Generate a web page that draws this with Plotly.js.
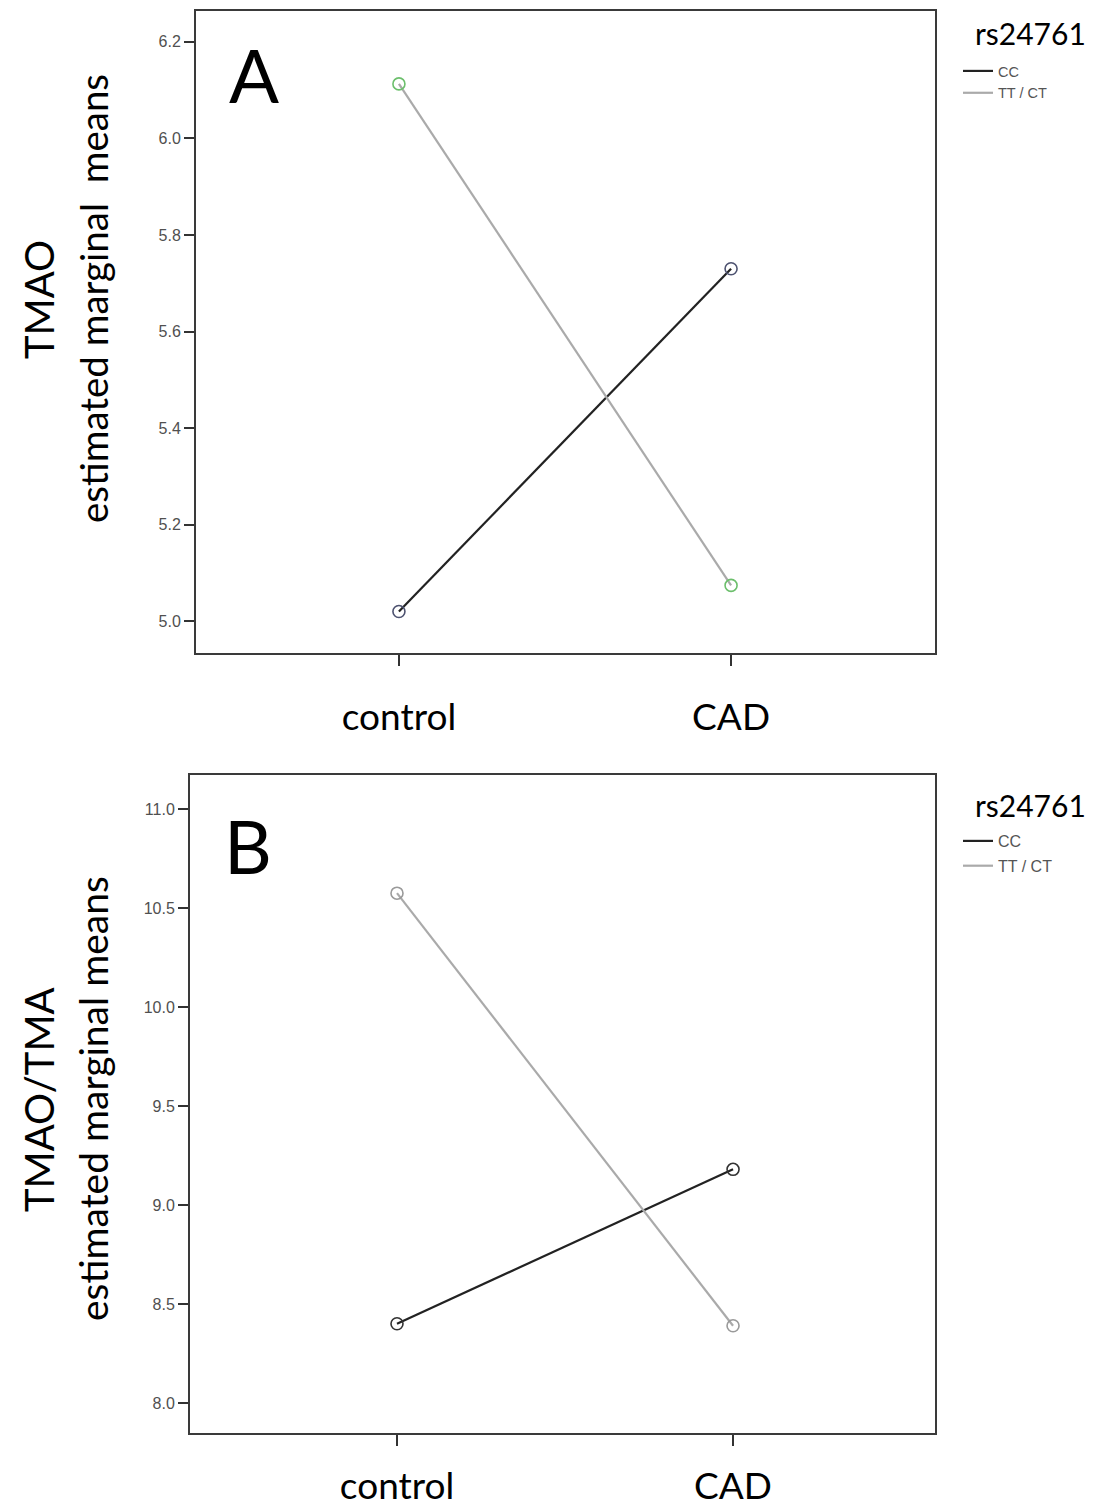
<!DOCTYPE html>
<html>
<head>
<meta charset="utf-8">
<script src="https://cdn.plot.ly/plotly-3.0.1.min.js"></script>
<style>html,body{margin:0;padding:0;background:#fff;}#chart{width:1093px;height:1510px;}</style>
</head>
<body>
<div id="chart"></div>
<script>
// ---- data ----
const categories = ['control', 'CAD'];
const groupNames = ['CC', 'TT / CT'];
const tmaoCC = [5.02, 5.73];
const tmaoTT = [6.113, 5.074];
const ratioCC = [8.40, 9.18];
const ratioTT = [10.575, 8.39];
const legendTitle = 'rs24761';
const panelA = {letter: 'A', ytitle: 'TMAO', ysub: 'estimated marginal \u00a0means'};
const panelB = {letter: 'B', ytitle: 'TMAO/TMA', ysub: 'estimated marginal means'};

const W = 1093, H = 1510;
const px = v => v / W;
const py = v => 1 - v / H;

const catIdx = categories.map((c, i) => i);

function lineTrace(y, name, color, xa, ya, leg, grp) {
  return {x: catIdx, y: y, name: name, mode: 'lines', type: 'scatter', legendgroup: grp,
    line: {color: color, width: 2.2}, xaxis: xa, yaxis: ya, legend: leg, hoverinfo: 'skip'};
}
function markTrace(y, color, xa, ya) {
  return {x: catIdx, y: y, mode: 'markers', type: 'scatter', showlegend: false,
    marker: {symbol: 'circle-open', size: 12, color: color, line: {width: 1.6, color: color}},
    xaxis: xa, yaxis: ya, hoverinfo: 'skip'};
}

const data = [
  lineTrace(tmaoCC, groupNames[0], '#222222', 'x', 'y', 'legend', 'a1'),
  lineTrace(tmaoTT, groupNames[1], '#aaaaaa', 'x', 'y', 'legend', 'a2'),
  markTrace(tmaoCC, '#4d5270', 'x', 'y'),
  markTrace(tmaoTT, '#6cbf6c', 'x', 'y'),
  lineTrace(ratioCC, groupNames[0], '#222222', 'x2', 'y2', 'legend2', 'b1'),
  lineTrace(ratioTT, groupNames[1], '#aaaaaa', 'x2', 'y2', 'legend2', 'b2'),
  markTrace(ratioCC, '#333333', 'x2', 'y2'),
  markTrace(ratioTT, '#9a9a9a', 'x2', 'y2')
];

const xAxisBase = {
  tickmode: 'array', tickvals: catIdx, ticktext: categories,
  showgrid: false, zeroline: false, showline: true, mirror: true,
  linecolor: '#3a3a3a', linewidth: 2, ticks: 'outside', ticklen: 11, tickwidth: 2, tickcolor: '#333',
  tickfont: {family: 'Lato', size: 37, color: '#000'}
};
const yAxisBase = {
  showgrid: false, zeroline: false, showline: true, mirror: true,
  linecolor: '#3a3a3a', linewidth: 2, ticks: 'outside', ticklen: 10, tickwidth: 2, tickcolor: '#333',
  tickfont: {family: 'Liberation Sans', size: 16, color: '#505050'}, tickformat: '.1f'
};

const legendBase = {
  xanchor: 'left', yanchor: 'top', bgcolor: 'rgba(0,0,0,0)',
  itemwidth: 30
};

function ann(text, x, y, size, angle) {
  return {text: text, x: px(x), y: py(y), xref: 'paper', yref: 'paper', showarrow: false,
    xanchor: 'center', yanchor: 'middle', textangle: angle || 0,
    font: {family: 'Lato', size: size, color: '#000'}};
}

const layout = {
  width: W, height: H, margin: {l: 0, r: 0, t: 0, b: 0},
  paper_bgcolor: '#fff', plot_bgcolor: '#fff', showlegend: true,
  xaxis: Object.assign({}, xAxisBase, {domain: [px(196), px(935)], range: [-0.611, 1.614], anchor: 'y', ticklabelstandoff: 20}),
  yaxis: Object.assign({}, yAxisBase, {domain: [py(653), py(11)], range: [4.934, 6.264], dtick: 0.2, tick0: 5.0, anchor: 'x'}),
  xaxis2: Object.assign({}, xAxisBase, {domain: [px(190), px(935)], range: [-0.616, 1.601], anchor: 'y2', ticklabelstandoff: 9}),
  yaxis2: Object.assign({}, yAxisBase, {domain: [py(1433), py(775)], range: [7.848, 11.172], dtick: 0.5, tick0: 8.0, anchor: 'x2'}),
  legend: Object.assign({}, legendBase, {x: px(958), y: py(55), tracegroupgap: 0,
    font: {family: 'Liberation Sans', size: 14.5, color: '#555'}}),
  legend2: Object.assign({}, legendBase, {x: px(958), y: py(824), tracegroupgap: 1,
    font: {family: 'Liberation Sans', size: 16, color: '#555'}}),
  annotations: [
    ann(panelA.letter, 254, 74, 74),
    ann(panelA.ytitle, 39, 300, 40, -90),
    ann(panelA.ysub, 93, 299, 38.5, -90),
    ann(legendTitle, 1030, 33, 30),
    ann(panelB.letter, 248, 845, 74),
    ann(panelB.ytitle, 39, 1100, 40, -90),
    ann(panelB.ysub, 93, 1099, 39, -90),
    ann(legendTitle, 1030, 805, 30)
  ]
};

Plotly.newPlot('chart', data, layout, {staticPlot: true, displayModeBar: false});
</script>
</body>
</html>
